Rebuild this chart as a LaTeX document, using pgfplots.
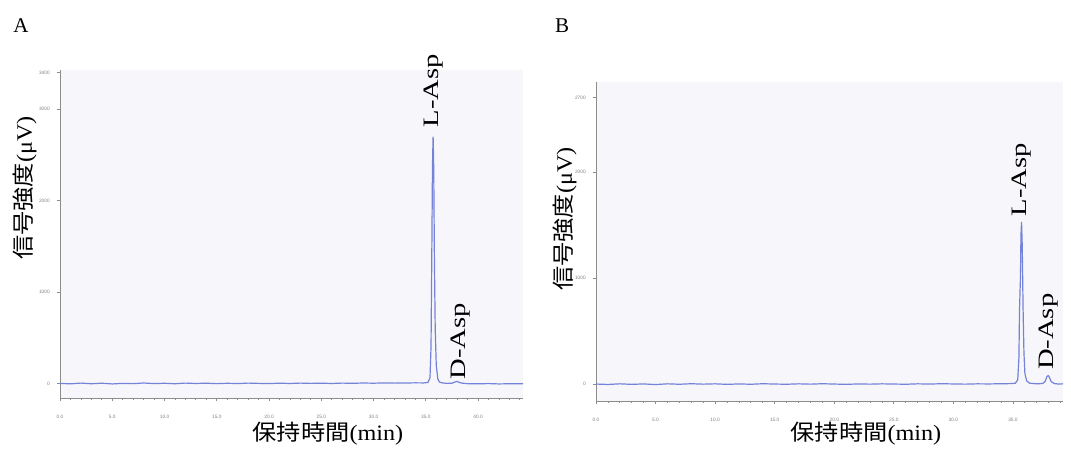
\documentclass[border=0pt]{standalone}
\usepackage{pgfplots}
\pgfplotsset{compat=1.18}
\usepackage{fontspec}
\setmainfont{Liberation Serif}
\setsansfont{Liberation Sans}
\newfontfamily\cjk{Noto Sans CJK JP}
\definecolor{trace}{HTML}{7482D8}
\definecolor{plotbg}{HTML}{F7F7FB}
\definecolor{axgray}{HTML}{8C8C8C}

\pgfplotsset{chrom/.style={
    scale only axis, anchor=south west,
    axis x line=bottom, axis y line=left,
    axis line style={-, draw=axgray, line width=0.5pt},
    axis background/.style={fill=plotbg},
    tick style={draw=axgray, line width=0.4pt},
    major tick length=1.6pt, minor tick length=1pt,
    tick align=outside,
    minor x tick num=4, minor y tick num=4,
    xtick distance=5,
    x tick label style={/pgf/number format/.cd, fixed, fixed zerofill, precision=1, /tikz/.cd, yshift=-3.5pt},
    y tick label style={/pgf/number format/1000 sep={}},
    ticklabel style={font=\sffamily\fontsize{2.4}{2.6}\selectfont, text=gray},
    /pgf/number format/assume math mode=true,
    scaled y ticks=false,
    clip=false,
}}
\newcommand\peaklab[1]{\fontsize{11}{12}\selectfont\scalebox{1.3}[1]{#1}}
\newcommand\jlab[2]{\fontsize{11}{12}\selectfont\scalebox{1.1}[1]{{\cjk #1}#2}}

\begin{document}
\begin{tikzpicture}
\path[use as bounding box] (0,0) rectangle (535.5pt,225pt);

% panel A
\begin{axis}[chrom,
    at={(30pt,26pt)}, width=231.5pt, height=164pt,
    xmin=0, xmax=44.3, ymin=-160, ymax=3430,
    ytick={0,1000,2000,3000,3400},
]
\addplot[trace, line width=0.6pt] coordinates {
    (0,0) (1,-5) (2,3) (3,-4) (4,2) (5,-6) (6,0) (7,-3) (8,4) (9,-2)
    (10,1) (11,-4) (12,3) (13,-1) (14,2) (15,-3) (16,1) (17,-2) (18,3)
    (19,0) (20,-2) (21,2) (22,-1) (23,3) (24,0) (25,2) (26,-1) (27,3)
    (28,1) (29,4) (30,2) (31,5) (32,3) (33,4) (34,6) (34.8,5) (35.2,10)
    (35.4,60) (35.5,400) (35.58,1500) (35.64,2400) (35.7,2700) (35.76,2350)
    (35.82,1400) (35.9,600) (36.0,200) (36.15,50) (36.3,15) (36.6,5)
    (37.0,0) (37.5,2) (37.8,15) (38.0,22) (38.2,10) (38.5,2) (39,-3)
    (40,-5) (41,-2) (42,-6) (43,-4) (44.3,-5)
};
\node[rotate=90, anchor=west, inner sep=0] at (axis cs:35.7,2800) {\peaklab{L-Asp}};
\node[rotate=90, anchor=west, inner sep=0] at (axis cs:38.3,40) {\peaklab{D-Asp}};
\end{axis}

% panel B
\begin{axis}[chrom,
    at={(298pt,24.5pt)}, width=233.5pt, height=159.5pt,
    xmin=0, xmax=39.2, ymin=-160, ymax=2850,
    ytick={0,1000,2000,2700},
]
\addplot[trace, line width=0.6pt] coordinates {
    (0,0) (1,-4) (2,2) (3,-3) (4,1) (5,-5) (6,2) (7,-2) (8,3) (9,-1)
    (10,2) (11,-3) (12,1) (13,-2) (14,3) (15,0) (16,-2) (17,2) (18,-1)
    (19,3) (20,0) (21,-3) (22,1) (23,-1) (24,2) (25,0) (26,-2) (27,2)
    (28,0) (29,3) (30,1) (31,-1) (32,2) (33,1) (34,3) (34.8,4) (35.2,8)
    (35.4,40) (35.5,250) (35.55,700) (35.6,900) (35.63,1000) (35.67,1400)
    (35.72,1530) (35.78,1300) (35.85,700) (35.92,300) (36.0,100) (36.15,30)
    (36.4,8) (37.0,2) (37.5,5) (37.7,25) (37.85,70) (37.95,80) (38.05,65)
    (38.2,25) (38.45,5) (38.8,0) (39.2,2)
};
\node[rotate=90, anchor=west, inner sep=0] at (axis cs:35.75,1580) {\peaklab{L-Asp}};
\node[rotate=90, anchor=west, inner sep=0] at (axis cs:37.95,130) {\peaklab{D-Asp}};
\end{axis}

% panel letters and axis titles
\node at (10.5pt,212pt) {\fontsize{10.5}{12}\selectfont A};
\node at (281pt,212pt) {\fontsize{10.5}{12}\selectfont B};
\node[rotate=90] at (12.5pt,131pt) {\jlab{信号強度}{(μV)}};
\node[rotate=90] at (282.5pt,115.5pt) {\jlab{信号強度}{(μV)}};
\node at (164pt,8pt) {\jlab{保持時間}{(min)}};
\node at (433pt,8pt) {\jlab{保持時間}{(min)}};
\end{tikzpicture}
\end{document}
